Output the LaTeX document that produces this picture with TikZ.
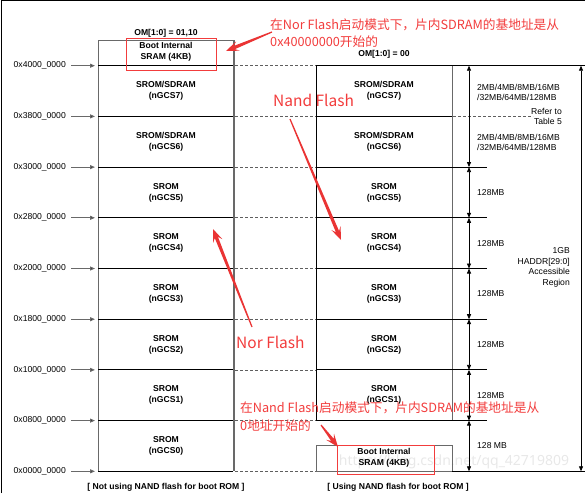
\documentclass[tikz,border=0pt]{standalone}
\usepackage{fontspec}
\setmainfont{Liberation Sans}
\newfontfamily\cjk{Noto Sans CJK SC}
\newfontfamily\wmfont{Noto Sans}
\usetikzlibrary{arrows.meta,calc}
\definecolor{annored}{RGB}{242,60,60}
\definecolor{arrred}{RGB}{234,52,52}
\definecolor{edgegray}{RGB}{105,105,105}
\definecolor{dashgray}{RGB}{95,95,95}
\newcommand\taperarrow[2]{%
  \coordinate (tB) at ($(#2)!9pt!(#1)$);
  \coordinate (tW) at ($(#2)!13pt!(#1)$);
  \fill[arrred] ($(#1)!0.6pt!90:(#2)$) -- ($(tB)!1.7pt!90:(#2)$) -- ($(tW)!5pt!90:(#2)$) -- (#2)
     -- ($(tW)!5pt!-90:(#2)$) -- ($(tB)!1.7pt!-90:(#2)$) -- ($(#1)!0.6pt!-90:(#2)$) -- cycle;}
\tikzset{
  addr/.style={font=\fontsize{8.6}{10}\selectfont, anchor=east, inner sep=1pt},
  cell/.style={font=\bfseries\fontsize{8.6}{11}\selectfont, align=center, inner sep=0pt},
  lbl/.style={font=\fontsize{8.6}{10}\selectfont, inner sep=0pt},
  capt/.style={font=\bfseries\fontsize{8.6}{10}\selectfont, inner sep=0pt},
  note/.style={font=\cjk\fontsize{12.7}{18}\selectfont, text=annored, align=left, anchor=west, inner sep=0pt},
  bignote/.style={font=\cjk\fontsize{15.5}{18}\selectfont, text=annored, anchor=west, inner sep=0pt},
  rowline/.style={black, line width=0.9pt},
  edgeline/.style={edgegray, line width=1pt},
  thickedge/.style={edgegray, line width=1.6pt},
  dashrow/.style={dashgray, line width=0.7pt, dash pattern=on 3pt off 2pt},
  dimarrow/.style={black, line width=0.8pt, {Triangle[length=5pt,width=4pt]}-{Triangle[length=5pt,width=4pt]}},
  addrarrow/.style={edgegray, line width=1pt, -{Triangle[length=5pt,width=4pt,fill=black]}},
  redbox/.style={annored, line width=0.8pt},
}
\begin{document}
\begin{tikzpicture}[x=1pt,y=-1pt]
\useasboundingbox (0,0) rectangle (585,493);
% frame
\draw[black, line width=1pt] (1.5,493) -- (1.5,0.8) -- (585,0.8);

% watermark (behind everything)
\node[font=\wmfont\fontsize{14}{14}\selectfont, text=black!9, inner sep=0pt] (wm) at (454,462) {https://blog.csdn.net/qq\_42719809};

% left column outline
\draw[edgeline] (98,40) -- (234,40);
\draw[edgeline] (98,40) -- (98,471.3);
\draw[thickedge] (234,40) -- (234,471.3);

% rows
\foreach \y in {65.7,116.4,167.1,217.8,268.5,319.2,369.9,420.6,471.3} {
  \draw[rowline] (98,\y) -- (233,\y);
  \draw[dashrow] (235,\y) -- (316,\y);
}

% address labels
\foreach \n/\y/\t in {8/65.7/0x4000\_0000, 7/116.4/0x3800\_0000, 6/167.1/0x3000\_0000,
   5/217.8/0x2800\_0000, 4/268.5/0x2000\_0000, 3/319.2/0x1800\_0000,
   2/369.9/0x1000\_0000, 1/420.6/0x0800\_0000, 0/471.3/0x0000\_0000} {
  \node[addr] (a\n) at (67,\y) {\t};
  \coordinate (l\n) at (95,\y);
  \draw[addrarrow] ([xshift=4pt]a\n.east) -- (l\n);
}

% left cells
\node[lbl, font=\bfseries\fontsize{8.6}{10}\selectfont] (omL) at (166,33) {OM[1:0] = 01,10};
\node[cell] (LB) at (166,52) {Boot Internal\\SRAM (4KB)};
\node[cell] (L7) at (166,91) {SROM/SDRAM\\(nGCS7)};
\node[cell] (L6) at (166,141.75) {SROM/SDRAM\\(nGCS6)};
\node[cell] (L5) at (166,192.45) {SROM\\(nGCS5)};
\node[cell] (L4) at (166,243.15) {SROM\\(nGCS4)};
\node[cell] (L3) at (166,293.85) {SROM\\(nGCS3)};
\node[cell] (L2) at (166,344.55) {SROM\\(nGCS2)};
\node[cell] (L1) at (166,395.25) {SROM\\(nGCS1)};
\node[cell] (L0) at (166,445.95) {SROM\\(nGCS0)};
\node[capt] (capL) at (166,487) {[ Not using NAND flash for boot ROM ]};

% right column
\draw[rowline] (316,65.7) -- (585,65.7);
\draw[rowline] (316,65.7) -- (316,420.6);
\draw[edgeline] (452,65.7) -- (452,420.6);
\draw[rowline] (316,116.4) -- (452,116.4);
\draw[dashrow] (453,116.4) -- (533,116.4);
\draw[rowline] (316,167.1) -- (487,167.1);
\foreach \y in {217.8,268.5,319.2,369.9,420.6} \draw[rowline] (316,\y) -- (487,\y);
\draw[edgeline] (316,445) rectangle (452,471.3);
\draw[rowline] (452,471.3) -- (585,471.3);

\node[lbl, font=\bfseries\fontsize{8.6}{10}\selectfont] (omR) at (384,54) {OM[1:0] = 00};
\node[cell] (R7) at (384,91) {SROM/SDRAM\\(nGCS7)};
\node[cell] (R6) at (384,141.75) {SROM/SDRAM\\(nGCS6)};
\node[cell] (R5) at (384,192.45) {SROM\\(nGCS5)};
\node[cell] (R4) at (384,243.15) {SROM\\(nGCS4)};
\node[cell] (R3) at (384,293.85) {SROM\\(nGCS3)};
\node[cell] (R2) at (384,344.55) {SROM\\(nGCS2)};
\node[cell] (R1) at (384,395.25) {SROM\\(nGCS1)};
\node[cell] (RB) at (384,458) {Boot Internal\\SRAM (4KB)};
\node[capt] (capR) at (398,487) {[ Using NAND flash for boot ROM ]};

% dimension arrows
\foreach \n/\y in {8/65.7,6/167.1,5/217.8,4/268.5,3/319.2,2/369.9,1/420.6,0/471.3}
  \coordinate (d\n) at (469,\y);
\draw[dimarrow] (d8) -- (d6);
\draw[dimarrow] (d6) -- (d5);
\draw[dimarrow] (d5) -- (d4);
\draw[dimarrow] (d4) -- (d3);
\draw[dimarrow] (d3) -- (d2);
\draw[dimarrow] (d2) -- (d1);
\draw[dimarrow] (d1) -- (d0);
\coordinate (gTop) at (581,65.7);
\coordinate (gBot) at (581,471.3);
\draw[dimarrow] (gTop) -- (gBot);

\node[lbl, align=left, anchor=west, font=\fontsize{8.6}{10}\selectfont] (s7) at (477,92) {2MB/4MB/8MB/16MB\\/32MB/64MB/128MB};
\node[lbl, align=right, anchor=east, font=\fontsize{8.6}{10}\selectfont] (ref) at (562,116) {Refer to\\Table 5};
\node[lbl, align=left, anchor=west, font=\fontsize{8.6}{10}\selectfont] (s6) at (477,142) {2MB/4MB/8MB/16MB\\/32MB/64MB/128MB};
\node[lbl, anchor=west] (s5) at (477,192.4) {128MB};
\node[lbl, anchor=west] (s4) at (477,243.1) {128MB};
\node[lbl, anchor=west] (s3) at (477,293.8) {128MB};
\node[lbl, anchor=west] (s2) at (477,344.5) {128MB};
\node[lbl, anchor=west] (s1) at (477,395.2) {128MB};
\node[lbl, anchor=west] (s0) at (477,445.9) {128 MB};
\node[lbl, align=right, anchor=east, font=\fontsize{8.6}{10.4}\selectfont] (gb) at (570,267.3) {1GB\\HADDR[29:0]\\Accessible\\Region};

% red boxes
\draw[redbox] (126,38) rectangle (216,70);
\draw[redbox] (337,445) rectangle (434,474);

% annotations
\node[note] (n1a) at (270,25) {在Nor Flash启动模式下，片内SDRAM的基地址是从};
\node[note] (n1b) at (270,42) {0x40000000开始的};
\node[bignote] (n2) at (273,100) {Nand Flash};
\node[bignote] (n3) at (236,342) {Nor Flash};
\node[note] (n4a) at (240,408) {在Nand Flash启动模式下，片内SDRAM的基地址是从};
\node[note] (n4b) at (240,426) {0地址开始的};

\coordinate (t1) at (272,32);  \coordinate (h1) at (226,51);
\coordinate (t2) at (290,119); \coordinate (h2) at (341,240);
\coordinate (t3) at (252,327); \coordinate (h3) at (213,229);
\coordinate (t4) at (321,425); \coordinate (h4) at (338,447);
\taperarrow{t1}{h1}
\taperarrow{t2}{h2}
\taperarrow{t3}{h3}
\taperarrow{t4}{h4}
\end{tikzpicture}
\end{document}
